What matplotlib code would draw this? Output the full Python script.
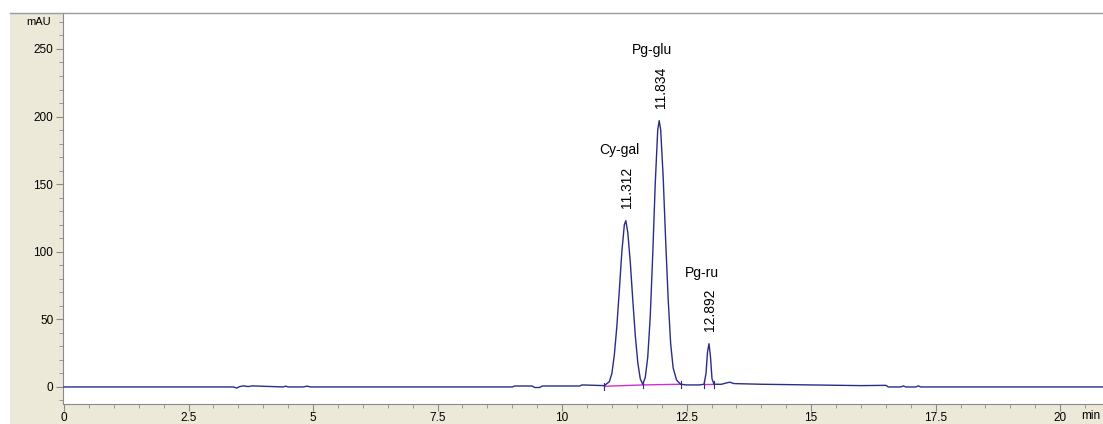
import numpy as np
import matplotlib
matplotlib.use("Agg")
import matplotlib.pyplot as plt
from matplotlib.ticker import MultipleLocator, FixedLocator, FuncFormatter

plt.rcParams["font.family"] = ["Liberation Sans", "DejaVu Sans"]

# chromatogram trace (min, mAU)
trace_t = [0.0, 3.40, 3.47, 3.52, 3.60, 3.70, 3.78, 4.40, 4.45, 4.50, 4.80, 4.88, 4.95,
           9.00, 9.05, 9.40, 9.45, 9.55, 9.60, 10.35, 10.40, 10.85,
           10.95, 11.00, 11.05, 11.10, 11.15, 11.20, 11.25, 11.28, 11.32, 11.37, 11.42,
           11.47, 11.52, 11.57, 11.62,
           11.67, 11.72, 11.77, 11.82, 11.87, 11.92, 11.95, 11.98, 12.03, 12.08, 12.13,
           12.18, 12.23, 12.30, 12.38, 12.50, 12.60, 12.75, 12.85,
           12.89, 12.92, 12.95, 12.98, 13.01, 13.05, 13.20, 13.30, 13.37, 13.45,
           14.0, 15.0, 16.0, 16.50, 16.55, 16.80, 16.85, 16.90, 17.10, 17.15, 17.20, 20.9]
trace_v = [0.0, 0.0, -0.8, 0.2, 0.8, 0.3, 0.8, 0.0, 0.6, 0.0, 0.0, 0.6, 0.0,
           0.0, 0.7, 0.7, -0.4, -0.4, 0.7, 0.7, 1.5, 1.0,
           4, 10, 24, 45, 72, 100, 120, 123, 114, 92, 64,
           38, 18, 6, 2,
           7, 22, 52, 98, 150, 190, 197, 190, 155, 108, 65,
           32, 14, 5, 2, 1.5, 1.5, 1.5, 2,
           10, 26, 32, 22, 6, 2, 2, 3, 3.5, 2.5,
           2, 1.5, 1, 1.2, 0.0, 0.0, 0.8, 0.0, 0.0, 0.8, 0.0, 0.0]

# integration baselines (magenta)
base_t = [[10.85, 11.62, 12.38], [12.85, 13.05]]
base_v = [[0.5, 1.5, 2.0], [2.0, 2.0]]

peak_names = ["Cy-gal", "Pg-glu", "Pg-ru"]
peak_rt = ["11.312", "11.834", "12.892"]
peak_apex = [11.28, 11.95, 12.95]

W, H = 1103, 424
fig = plt.figure(figsize=(W / 100, H / 100), dpi=100)
fig.patch.set_facecolor("white")

# beige panel behind the plot + top rule
fig.add_artist(plt.Rectangle((10 / W, 0), 1, 1 - 13 / H, transform=fig.transFigure,
                             facecolor="#ece9d8", edgecolor="none", zorder=-10))
fig.add_artist(plt.Line2D([10 / W, 1], [1 - 13 / H, 1 - 13 / H], transform=fig.transFigure,
                          color="#9a9a9a", lw=1))

ax = fig.add_axes([63 / W, 1 - 404 / H, 1 - 63 / W, (404 - 13) / H])
ax.set_facecolor("white")

ax.plot(trace_t, trace_v, color="#2b2b88", lw=1.0, zorder=3)
for bt, bv in zip(base_t, base_v):
    ax.plot(bt, bv, color="#d030d0", lw=1.0, zorder=2)
    for x, y in zip(bt, bv):
        ax.plot([x, x], [y - 2.5, y + 2.5], color="#2b2b88", lw=0.8, zorder=4)

for name, rt, t in zip(peak_names, peak_rt, peak_apex):
    h = np.interp(t, trace_t, trace_v)
    ax.annotate(rt, (t, h), xytext=(1, 9), textcoords="offset points",
                rotation=90, ha="center", va="bottom", fontsize=10)
    ax.annotate(name, (t, h), xytext=(-5, 48), textcoords="offset points",
                ha="center", va="baseline", fontsize=10)

ax.set_xlim(-0.02, 20.86)
ax.set_ylim(-12.6, 276.6)
ax.xaxis.set_major_locator(MultipleLocator(2.5))
ax.xaxis.set_minor_locator(MultipleLocator(0.5))
ax.yaxis.set_major_locator(FixedLocator([0, 50, 100, 150, 200, 250]))
ax.yaxis.set_minor_locator(MultipleLocator(10))
ax.xaxis.set_major_formatter(FuncFormatter(lambda v, p: f"{v:g}"))

for s in ["top", "right"]:
    ax.spines[s].set_visible(False)
for s in ["left", "bottom"]:
    ax.spines[s].set_color("#8a8a8a")
ax.tick_params(which="major", length=5, color="#8a8a8a", labelsize=8.5, pad=2)
ax.tick_params(which="minor", length=3, color="#8a8a8a")
ax.tick_params(axis="x", pad=1)

ax.text(-0.012, 270, "mAU", transform=ax.get_yaxis_transform(), ha="right", va="center",
        fontsize=8)
ax.annotate("min", (20.42, 0), xycoords=ax.get_xaxis_transform(), xytext=(0, -4.5),
            textcoords="offset points", ha="left", va="top", fontsize=8.5)

fig.savefig("out.png", dpi=100, facecolor=fig.get_facecolor())
